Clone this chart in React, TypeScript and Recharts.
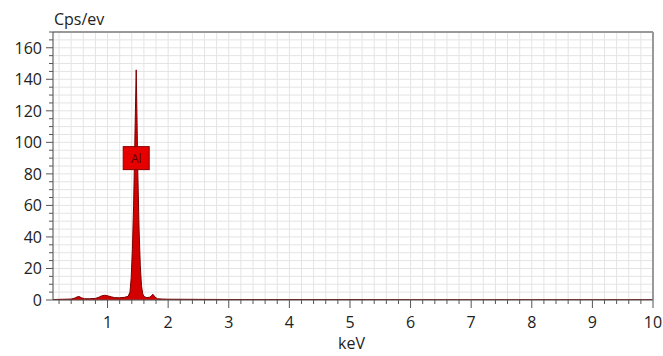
import React from "react";
import { ComposedChart, Area, XAxis, YAxis, CartesianGrid, ReferenceLine, ReferenceDot } from "recharts";

const energies = [
  0.1, 0.2, 0.3, 0.4, 0.46, 0.5, 0.53, 0.57, 0.62, 0.7, 0.8, 0.86, 0.9, 0.95, 1.0, 1.06, 1.12, 1.2, 1.28, 1.34,
  1.37, 1.39, 1.41, 1.43, 1.45, 1.465, 1.473, 1.485, 1.5, 1.52, 1.54, 1.56, 1.58, 1.6, 1.65, 1.7, 1.73, 1.75, 1.78,
  1.82, 1.9, 2.0, 2.5, 3.0, 4.0, 5.0, 6.0, 7.0, 8.0, 9.0, 10.0,
];
const counts = [
  0.3, 0.4, 0.5, 0.6, 1.2, 2.0, 2.2, 1.4, 0.8, 0.8, 1.0, 1.8, 2.6, 3.0, 2.7, 2.0, 1.5, 1.4, 1.7, 2.3,
  5, 14, 32, 60, 100, 130, 146, 118, 80, 45, 22, 9, 4, 2.2, 1.5, 1.8, 3.0, 3.6, 2.0,
  0.8, 0.6, 0.5, 0.4, 0.3, 0.3, 0.3, 0.2, 0.2, 0.2, 0.2, 0.2,
];
const xMinorTicks = Array.from({ length: 50 }, (_, i) => Number(((i + 1) * 0.2).toFixed(1)));
const xLabels = [1, 2, 3, 4, 5, 6, 7, 8, 9, 10];
const yTicks = Array.from({ length: 35 }, (_, i) => i * 5);
const yLabels = [0, 20, 40, 60, 80, 100, 120, 140, 160];
const peakLabel = { name: "Al", x: 1.473, y: 90 };

const data = energies.map((e, i) => ({ e, c: counts[i] }));
const FONT = "'Open Sans', 'Liberation Sans', sans-serif";

const XTick = (props: any) => {
  const { x, y, payload } = props;
  const v = payload.value;
  const major = xLabels.some((l) => Math.abs(l - v) < 1e-6);
  return (
    <g>
      <line x1={x} x2={x} y1={y} y2={y + (major ? 8 : 4)} stroke="#555" strokeWidth={1} />
      {major && (
        <text x={x} y={y + 28} textAnchor="middle" fontSize={16} fontFamily={FONT} fill="#222">
          {Math.round(v)}
        </text>
      )}
    </g>
  );
};

const YTick = (props: any) => {
  const { x, y, payload } = props;
  const v = payload.value;
  const major = yLabels.includes(v);
  return (
    <g>
      <line x1={x} x2={x - (major ? 7 : 4)} y1={y} y2={y} stroke="#555" strokeWidth={1} />
      {major && (
        <text x={x - 11} y={y + 6} textAnchor="end" fontSize={16} fontFamily={FONT} fill="#222">
          {v}
        </text>
      )}
    </g>
  );
};

const LabelBox = (props: any) => {
  const { cx, cy } = props;
  return (
    <g>
      <rect x={cx - 13} y={cy - 11.5} width={26} height={23} fill="#e60000" stroke="#8a0000" strokeWidth={1} />
      <text x={cx} y={cy + 4.5} textAnchor="middle" fontSize={12} fontFamily={FONT} fill="#5a0000">
        {peakLabel.name}
      </text>
    </g>
  );
};

export default function App() {
  return (
    <div style={{ position: "absolute", left: 0, top: 0, width: 663, height: 356, background: "#fff" }}>
      <ComposedChart width={663} height={356} data={data} margin={{ top: 32, right: 10, bottom: 0, left: 0 }}>
        <CartesianGrid stroke="#e4e4e4" strokeWidth={1} />
        <XAxis
          dataKey="e"
          type="number"
          domain={[0.1, 10]}
          ticks={xMinorTicks}
          interval={0}
          tick={<XTick />}
          tickSize={0}
          tickMargin={0}
          tickLine={false}
          axisLine={{ stroke: "#555" }}
          height={56}
          allowDataOverflow
        />
        <YAxis
          type="number"
          domain={[0, 170]}
          ticks={yTicks}
          interval={0}
          tick={<YTick />}
          tickSize={0}
          tickMargin={0}
          tickLine={false}
          axisLine={{ stroke: "#555" }}
          width={53}
          allowDataOverflow
        />
        <ReferenceLine y={170} stroke="#999" strokeWidth={2} />
        <ReferenceLine x={10} stroke="#999" strokeWidth={2} />
        <Area
          dataKey="c"
          type="linear"
          stroke="#7a0000"
          strokeWidth={1}
          fill="#d40000"
          fillOpacity={1}
          isAnimationActive={false}
          dot={false}
          activeDot={false}
        />
        <ReferenceDot x={peakLabel.x} y={peakLabel.y} shape={<LabelBox />} />
      </ComposedChart>
      <div style={{ position: "absolute", left: 54, top: 8, fontFamily: FONT, fontSize: 16, color: "#222" }}>Cps/ev</div>
      <div style={{ position: "absolute", left: 338, top: 332, fontFamily: FONT, fontSize: 16, color: "#222" }}>keV</div>
    </div>
  );
}
